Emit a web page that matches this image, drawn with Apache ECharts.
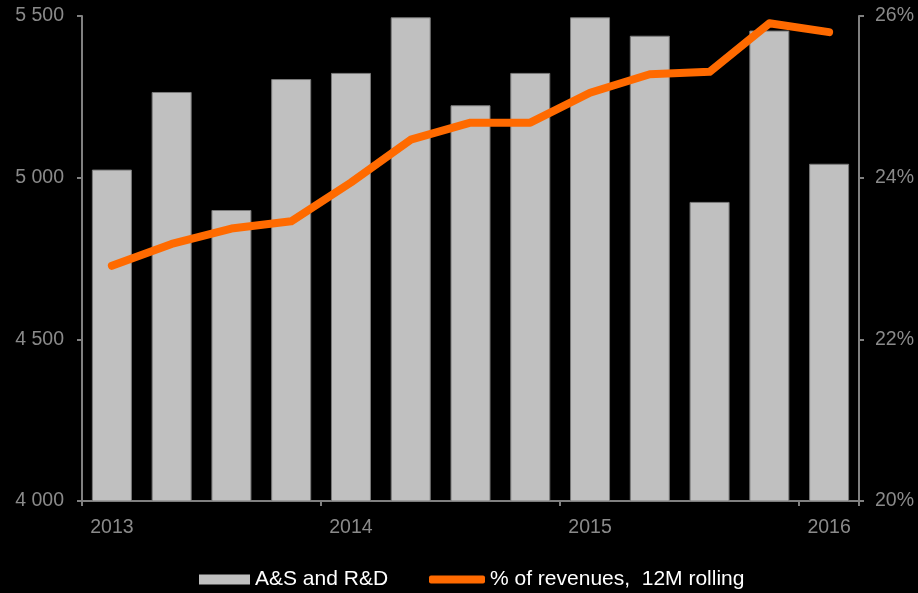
<!DOCTYPE html>
<html>
<head>
<meta charset="utf-8">
<style>
  html, body { margin: 0; padding: 0; background: #000; }
  #chart { width: 918px; height: 593px; }
</style>
<script src="https://cdn.jsdelivr.net/npm/echarts@6/dist/echarts.min.js"></script>
</head>
<body>
<div id="chart"></div>
<script>
// Quarterly periods, Q1 2013 .. Q1 2016; only the first quarter of each year is labelled
const quarters = ['2013', '', '', '', '2014', '', '', '', '2015', '', '', '', '2016'];

// A&S and R&D spend (left axis)
const spend = [5025, 5265, 4900, 5305, 5324, 5496, 5224, 5324, 5496, 5439, 4925, 5455, 5043];

// Spend as % of revenues, 12-month rolling (right axis)
const pctRevenues = [22.91, 23.18, 23.37, 23.46, 23.94, 24.47, 24.68, 24.68, 25.05, 25.28, 25.31, 25.91, 25.80];

const leftTicks = { min: 4000, max: 5500, step: 500 };
const rightTicks = { min: 20, max: 26, step: 2 };

const barName = 'A&S and R&D';
const lineName = '% of revenues,  12M rolling';

const axisGrey = '#808080';
const labelGrey = '#8a8a8a';
const font = 'Liberation Sans, Arial, sans-serif';

const chart = echarts.init(document.getElementById('chart'), null, { renderer: 'canvas' });

chart.setOption({
  backgroundColor: '#000',
  animation: false,
  grid: { left: 82, right: 59, top: 16, bottom: 92 },
  legend: [
    {
      data: [{ name: barName, icon: 'rect' }],
      left: 199, top: 569, padding: 0,
      itemWidth: 51, itemHeight: 10,
      itemStyle: { borderWidth: 0 },
      textStyle: { color: '#fff', fontSize: 21, fontFamily: font }
    },
    {
      data: [{ name: lineName, icon: 'roundRect' }],
      left: 429, top: 569, padding: 0,
      itemWidth: 56, itemHeight: 8,
      itemStyle: { borderWidth: 0 },
      textStyle: { color: '#fff', fontSize: 21, fontFamily: font }
    }
  ],
  xAxis: {
    type: 'category',
    data: quarters,
    boundaryGap: true,
    axisLine: { lineStyle: { color: axisGrey, width: 2 } },
    axisTick: { show: true, interval: 3, length: 5, lineStyle: { color: axisGrey, width: 2 } },
    axisLabel: { interval: 0, color: labelGrey, fontSize: 19.5, fontFamily: font, margin: 17 },
    splitLine: { show: false }
  },
  yAxis: [
    {
      type: 'value',
      min: leftTicks.min, max: leftTicks.max, interval: leftTicks.step,
      axisLine: { show: true, lineStyle: { color: axisGrey, width: 2 } },
      axisTick: { show: true, length: 5, lineStyle: { color: axisGrey, width: 2 } },
      axisLabel: {
        color: labelGrey, fontSize: 19.5, fontFamily: font, margin: 18,
        formatter: v => String(v).replace(/\B(?=(\d{3})+(?!\d))/g, ' ')
      },
      splitLine: { show: false }
    },
    {
      type: 'value',
      position: 'right',
      min: rightTicks.min, max: rightTicks.max, interval: rightTicks.step,
      axisLine: { show: true, lineStyle: { color: axisGrey, width: 2 } },
      axisTick: { show: true, length: 5, lineStyle: { color: axisGrey, width: 2 } },
      axisLabel: { color: labelGrey, fontSize: 19.5, fontFamily: font, margin: 16, formatter: '{value}%' },
      splitLine: { show: false }
    }
  ],
  series: [
    {
      name: barName,
      type: 'bar',
      yAxisIndex: 0,
      data: spend,
      barWidth: 40,
      itemStyle: { color: '#c0c0c0', borderColor: '#7a7a7a', borderWidth: 1 },
      z: 2
    },
    {
      name: lineName,
      type: 'line',
      yAxisIndex: 1,
      data: pctRevenues,
      symbol: 'none',
      itemStyle: { color: '#ff6a00' },
      lineStyle: { color: '#ff6a00', width: 8, cap: 'round', join: 'round' },
      z: 3
    }
  ]
});
</script>
</body>
</html>
